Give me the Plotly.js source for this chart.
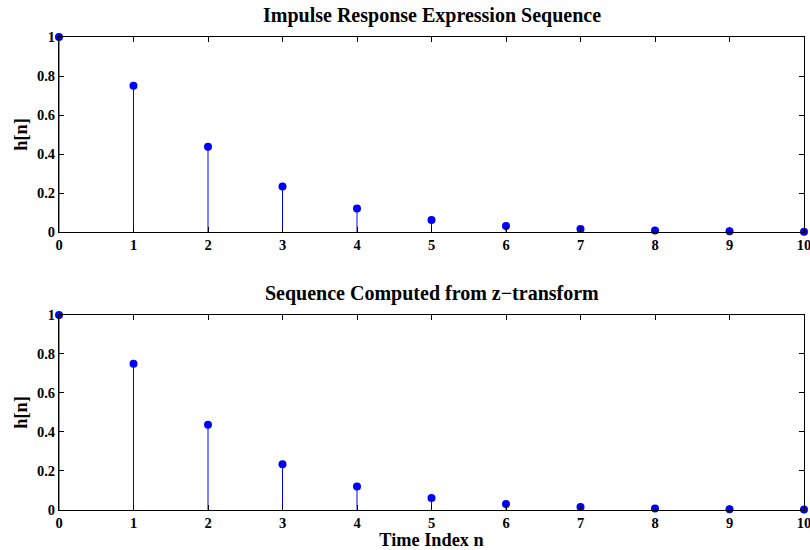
<!DOCTYPE html>
<html>
<head>
<meta charset="utf-8">
<script src="https://cdn.plot.ly/plotly-3.0.1.min.js"></script>
<style>html,body{margin:0;padding:0;background:#fff;}#chart{width:810px;height:550px;}</style>
</head>
<body>
<div id="chart"></div>
<script>
// Data
const n = [0, 1, 2, 3, 4, 5, 6, 7, 8, 9, 10];
const hExpr = [1, 0.75, 0.4375, 0.234, 0.121, 0.061, 0.031, 0.0156, 0.0078, 0.0039, 0.002];
const hZ = [1, 0.75, 0.4375, 0.234, 0.121, 0.061, 0.031, 0.0156, 0.0078, 0.0039, 0.002];
const xTicks = [0, 1, 2, 3, 4, 5, 6, 7, 8, 9, 10];
const yTicks = [0, 0.2, 0.4, 0.6, 0.8, 1];
const yTickText = ['0', '0.2', '0.4', '0.6', '0.8', '1'];

const blue = '#0000ff';
const fontFam = '"Liberation Serif", "Times New Roman", serif';

function stems(xs, ys, xa, ya) {
  const sx = [], sy = [];
  xs.forEach((x, i) => { sx.push(x, x, null); sy.push(0, ys[i], null); });
  return [
    {x: sx, y: sy, xaxis: xa, yaxis: ya, mode: 'lines', type: 'scatter',
     line: {color: blue, width: 1}, hoverinfo: 'skip', cliponaxis: false, showlegend: false},
    {x: xs, y: ys, xaxis: xa, yaxis: ya, mode: 'markers', type: 'scatter',
     marker: {color: blue, size: 8}, cliponaxis: false, showlegend: false}
  ];
}

const data = [].concat(stems(n, hExpr, 'x', 'y'), stems(n, hZ, 'x2', 'y2'));

const tickFont = {family: fontFam, size: 14.5, color: '#000', weight: 'bold'};
const labFont = {family: fontFam, size: 18.3, color: '#000', weight: 'bold'};
const titleFont = {family: fontFam, size: 20, color: '#000', weight: 'bold'};
function xax(anchor) {
  return {anchor: anchor, domain: [0, 1], range: [0, 10], tickvals: xTicks,
    ticks: 'inside', ticklen: 5, tickcolor: '#000', showline: true, linecolor: '#000', linewidth: 1,
    mirror: 'ticks', showgrid: false, zeroline: false, tickfont: tickFont, ticklabelstandoff: 0,
    ticklabeloverflow: 'allow', automargin: false, fixedrange: true};
}
function yax(anchor, dom) {
  return {anchor: anchor, domain: dom, range: [0, 1], tickvals: yTicks, ticktext: yTickText,
    ticks: 'inside', ticklen: 5, tickcolor: '#000', showline: true, linecolor: '#000', linewidth: 1,
    mirror: 'ticks', showgrid: false, zeroline: true, zerolinecolor: '#000', zerolinewidth: 2,
    tickfont: tickFont, ticklabeloverflow: 'allow', automargin: false, fixedrange: true,
    title: {text: 'h[n]', font: labFont, standoff: 4}};
}

const layout = {
  width: 810, height: 550,
  margin: {l: 59, r: 6, t: 37, b: 40},
  paper_bgcolor: '#fff', plot_bgcolor: '#fff',
  showlegend: false,
  xaxis: xax('y'),
  yaxis: yax('x', [0.5877, 1]),
  xaxis2: Object.assign(xax('y2'), {title: {text: 'Time Index n', font: labFont, standoff: 0}}),
  yaxis2: yax('x2', [0, 0.4123]),
  annotations: [
    {text: 'Impulse Response Expression Sequence', xref: 'paper', yref: 'paper', x: 0.5, y: 1, yshift: 8,
     xanchor: 'center', yanchor: 'bottom', showarrow: false, font: titleFont},
    {text: 'Sequence Computed from z\u2212transform', xref: 'paper', yref: 'paper', x: 0.5, y: 0.4123, yshift: 8,
     xanchor: 'center', yanchor: 'bottom', showarrow: false, font: titleFont}
  ]
};

Plotly.newPlot('chart', data, layout, {displayModeBar: false, staticPlot: true});
</script>
</body>
</html>
